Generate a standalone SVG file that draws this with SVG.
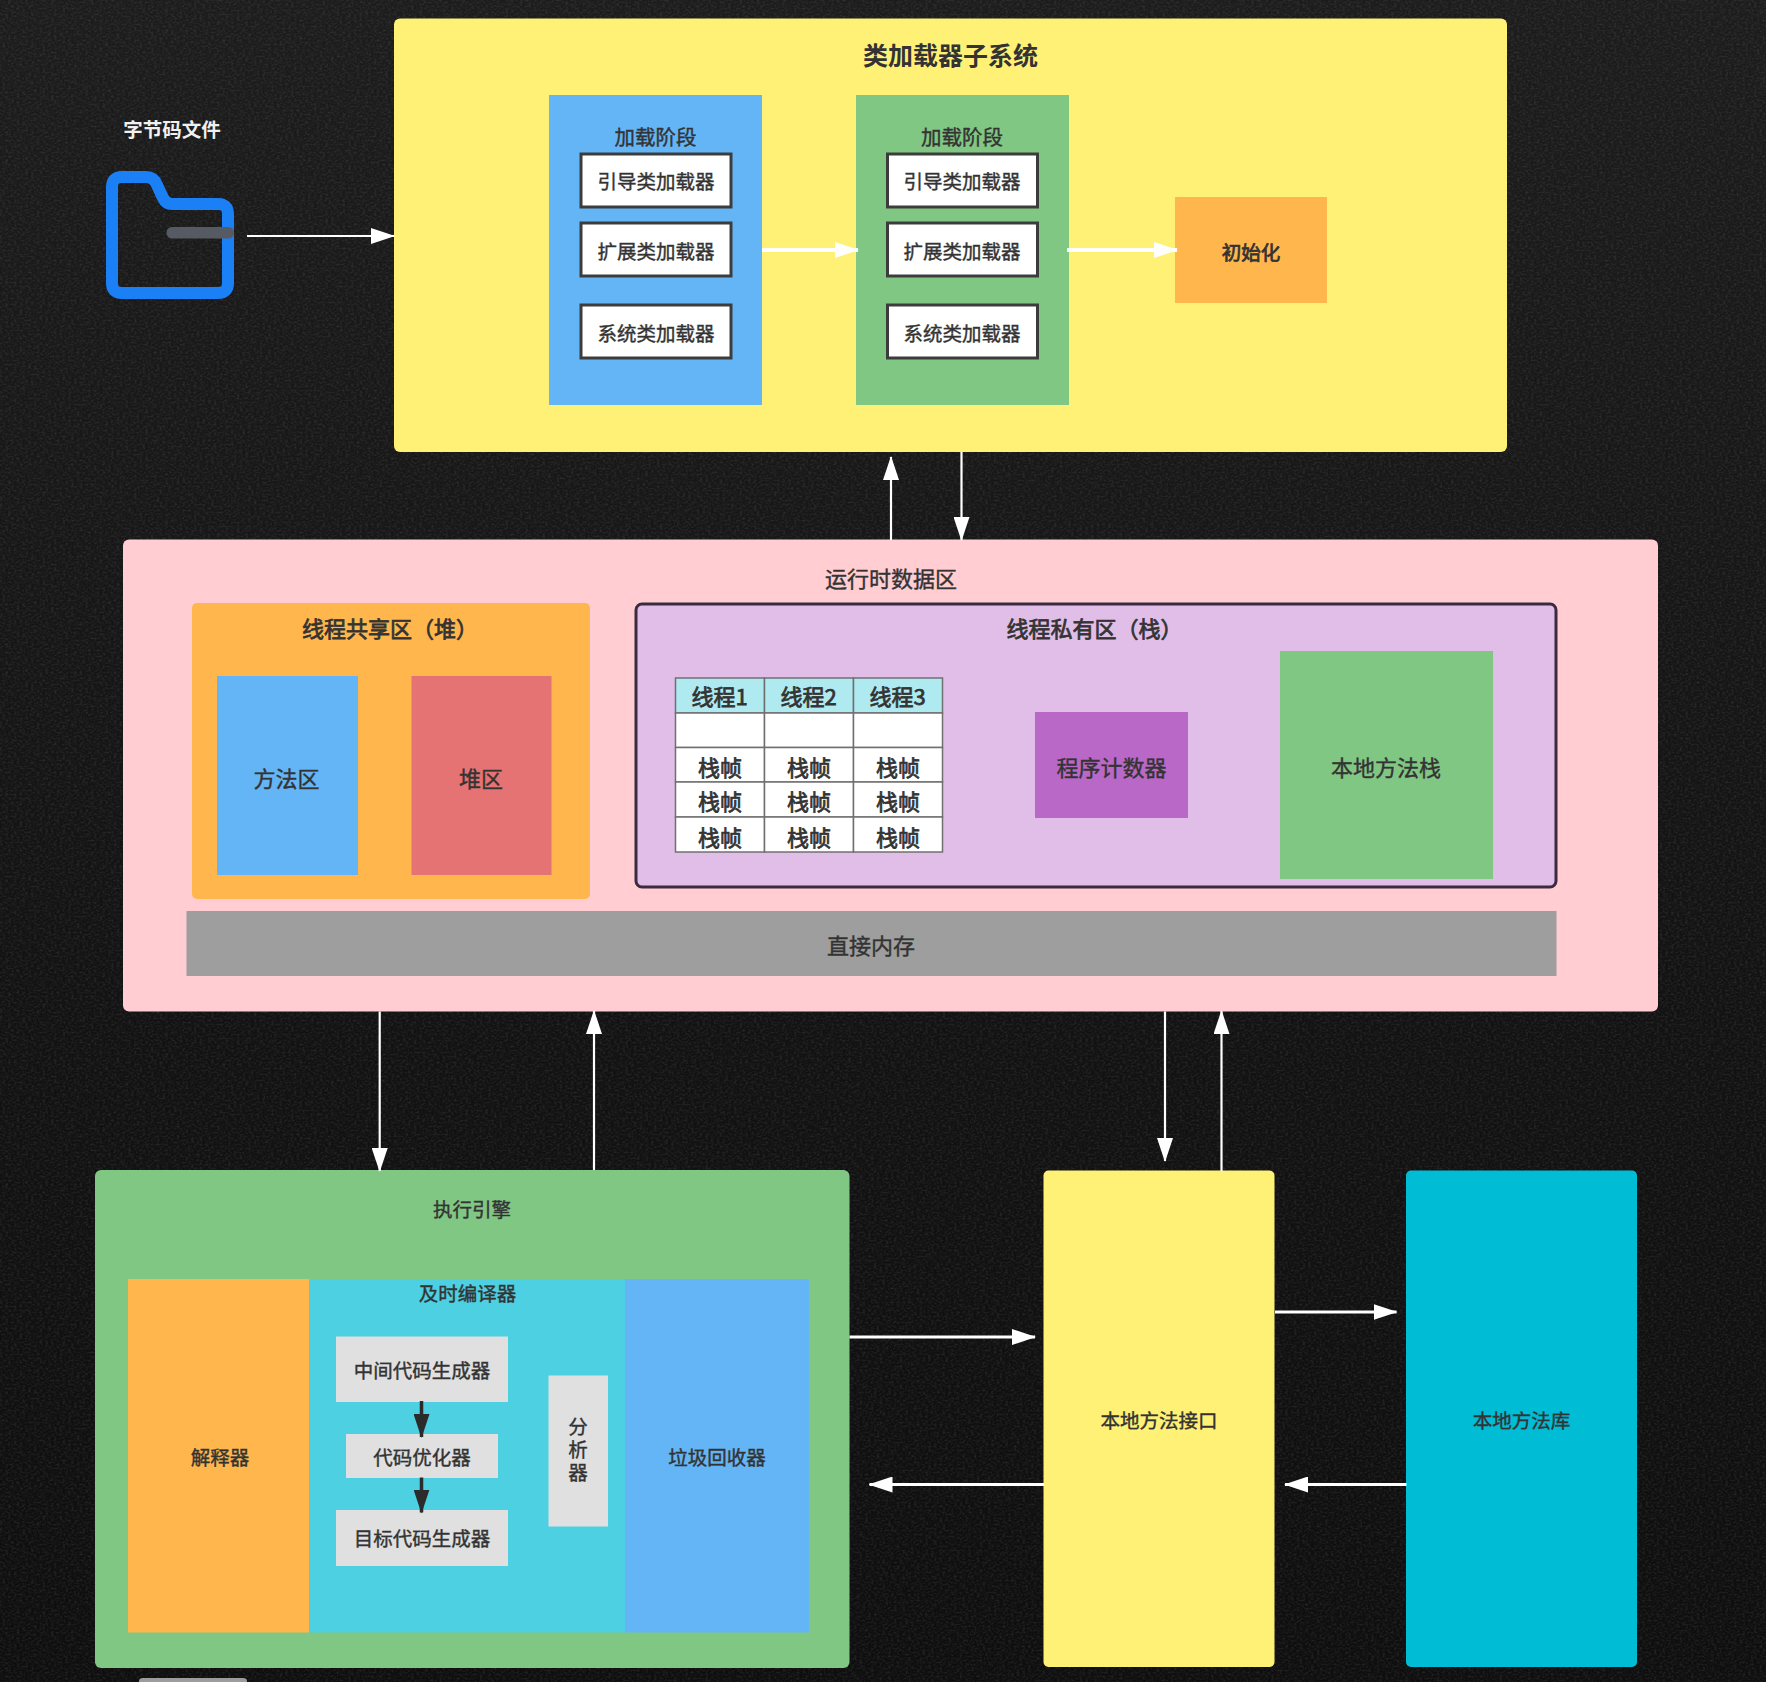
<svg xmlns="http://www.w3.org/2000/svg" width="1766" height="1682" viewBox="0 0 1766 1682">
<style>
text{font-family:"Noto Sans CJK SC","Noto Sans",sans-serif;fill:#333;stroke:#333;stroke-width:.4;text-anchor:middle;dominant-baseline:central;font-size:22px}
.s19{font-size:19.5px}
.s23{font-size:19.5px}
.b{font-weight:700;stroke-width:0}
.sb{stroke-width:.75}
.st{text-anchor:start}
.w{fill:#fff;stroke:#3c3c3c;stroke-width:3}
.c{fill:#fff;stroke:#707070;stroke-width:1.5}
.h{fill:#aeeaf0;stroke:#707070;stroke-width:1.5}
.g{fill:#e0e0e0}
.a{fill:none;stroke:#fff;stroke-width:2.2}
.t{fill:none;stroke:#fff;stroke-width:4}
.d{fill:none;stroke:#2b2b2b;stroke-width:3.5}
</style>
<defs>
<linearGradient id="bg" x1="0" y1="0" x2="0" y2="1"><stop offset="0" stop-color="#1c1c1c"/><stop offset="0.6" stop-color="#121212"/><stop offset="1" stop-color="#0e0e0e"/></linearGradient>
<filter id="n" x="0" y="0" width="100%" height="100%"><feTurbulence type="fractalNoise" baseFrequency="0.35 0.5" numOctaves="3" seed="4"/><feColorMatrix values="0 0 0 0 1 0 0 0 0 1 0 0 0 0 1 0.9 0 0 0 -0.36"/></filter>
<marker id="wh" markerUnits="userSpaceOnUse" viewBox="0 0 24 16" markerWidth="24" markerHeight="16" refX="23" refY="8" orient="auto"><path d="M0 0L24 8L0 16Z" fill="#fff"/></marker>
<marker id="dh" markerUnits="userSpaceOnUse" viewBox="0 0 24 16" markerWidth="24" markerHeight="16" refX="23" refY="8" orient="auto"><path d="M0 0L24 8L0 16Z" fill="#2b2b2b"/></marker>
</defs>
<rect width="1766" height="1682" fill="url(#bg)"/>
<rect width="1766" height="1682" filter="url(#n)" opacity="0.22"/>
<path d="M139 1682V1681Q139 1678 143 1678H243Q247 1678 247 1681V1682Z" fill="#9c9c9c"/>

<g id="folder"><text x="172" y="128" class="s19 b" style="fill:#f0f0f0">字节码文件</text>
<path d="M122 177H146Q154 177 157 185L163 198Q166 204 172 204H218Q228 204 228 214V283Q228 293 218 293H122Q112 293 112 283V187Q112 177 122 177Z" fill="none" stroke="#1b7ff5" stroke-width="12"/>
<rect x="166.5" y="227" width="67.5" height="11.5" rx="5.5" fill="#565b63"/></g>

<g id="classloader"><rect x="394" y="18.5" width="1113" height="433.5" rx="6" fill="#fff176"/>
<text x="950.5" y="54" class="b" style="font-size:25px">类加载器子系统</text></g>
<g id="load1"><rect x="549" y="95" width="213" height="310" fill="#64b5f6"/>
<text x="655.5" y="136" style="font-size:20.5px">加载阶段</text>
<rect class="w" x="581" y="154" width="150" height="53"/><text x="656" y="180" class="s23">引导类加载器</text>
<rect class="w" x="581" y="223" width="150" height="53"/><text x="656" y="250" class="s23">扩展类加载器</text>
<rect class="w" x="581" y="305" width="150" height="53"/><text x="656" y="332" class="s23">系统类加载器</text></g>
<g id="load2"><rect x="856" y="95" width="213" height="310" fill="#81c784"/>
<text x="962" y="136" style="font-size:20.5px">加载阶段</text>
<rect class="w" x="887.5" y="154" width="150" height="53"/><text x="962" y="180" class="s23">引导类加载器</text>
<rect class="w" x="887.5" y="223" width="150" height="53"/><text x="962" y="250" class="s23">扩展类加载器</text>
<rect class="w" x="887.5" y="305" width="150" height="53"/><text x="962" y="332" class="s23">系统类加载器</text></g>
<g id="init"><rect x="1175" y="197" width="152" height="106" fill="#ffb74d"/><text x="1251" y="251" class="s19 sb">初始化</text></g>

<g id="runtime"><rect x="123" y="539.5" width="1535" height="472" rx="6" fill="#ffcdd2"/><text x="891" y="576.5">运行时数据区</text></g>
<g id="shared"><rect x="192" y="603" width="398" height="296" rx="5" fill="#ffb74d"/><text x="302" y="627" class="st sb">线程共享区（堆）</text></g>
<g id="method"><rect x="217" y="676" width="141" height="199" fill="#64b5f6"/><text x="286.5" y="776.5">方法区</text></g>
<g id="heap"><rect x="411.5" y="676" width="140" height="199" fill="#e57373"/><text x="481" y="776.5">堆区</text></g>
<g id="private"><rect x="636" y="604" width="920" height="283" rx="6" fill="#e1bee7" stroke="#3a2b40" stroke-width="3"/><text x="1006.5" y="627" class="st sb">线程私有区（栈）</text></g>
<g id="threads">
<rect class="h" x="675.5" y="678" width="89" height="35"/><rect class="h" x="764.5" y="678" width="89" height="35"/><rect class="h" x="853.5" y="678" width="89" height="35"/>
<text x="719.5" y="695" class="sb">线程1</text><text x="808.5" y="695" class="sb">线程2</text><text x="897.5" y="695" class="sb">线程3</text>
<rect class="c" x="675.5" y="713" width="89" height="34.5"/><rect class="c" x="764.5" y="713" width="89" height="34.5"/><rect class="c" x="853.5" y="713" width="89" height="34.5"/>
<rect class="c" x="675.5" y="747.5" width="89" height="34.5"/><rect class="c" x="764.5" y="747.5" width="89" height="34.5"/><rect class="c" x="853.5" y="747.5" width="89" height="34.5"/>
<rect class="c" x="675.5" y="782" width="89" height="35"/><rect class="c" x="764.5" y="782" width="89" height="35"/><rect class="c" x="853.5" y="782" width="89" height="35"/>
<rect class="c" x="675.5" y="817" width="89" height="35"/><rect class="c" x="764.5" y="817" width="89" height="35"/><rect class="c" x="853.5" y="817" width="89" height="35"/>
<g class="f"><text x="720" y="765.5" class="sb">栈帧</text><text x="809" y="765.5" class="sb">栈帧</text><text x="898" y="765.5" class="sb">栈帧</text>
<text x="720" y="799.5" class="sb">栈帧</text><text x="809" y="799.5" class="sb">栈帧</text><text x="898" y="799.5" class="sb">栈帧</text>
<text x="720" y="835.5" class="sb">栈帧</text><text x="809" y="835.5" class="sb">栈帧</text><text x="898" y="835.5" class="sb">栈帧</text></g></g>
<g id="pc"><rect x="1035" y="712" width="153" height="106" fill="#ba68c8"/><text x="1111.5" y="765.5">程序计数器</text></g>
<g id="nstack"><rect x="1280" y="651" width="213" height="228" fill="#81c784"/><text x="1386" y="765.5">本地方法栈</text></g>
<g id="direct"><rect x="186.5" y="911" width="1370" height="65" fill="#9e9e9e"/><text x="871" y="943.5">直接内存</text></g>

<g id="engine"><rect x="95" y="1170" width="754.5" height="498" rx="6" fill="#81c784"/><text x="472" y="1208" class="s19">执行引擎</text></g>
<g id="interp"><rect x="128" y="1279" width="181" height="353.5" fill="#ffb74d"/><text x="220" y="1456" class="s19">解释器</text></g>
<g id="jit"><rect x="309" y="1279" width="316" height="353.5" fill="#4dd0e1"/><text x="467.5" y="1292" class="s19">及时编译器</text></g>
<g id="gc"><rect x="625" y="1279" width="184" height="353.5" fill="#64b5f6"/><text x="717" y="1456" class="s19">垃圾回收器</text></g>
<g id="ir"><rect class="g" x="336" y="1336.5" width="172" height="65.5"/><text x="422" y="1369.5" class="s19">中间代码生成器</text></g>
<g id="opt"><rect class="g" x="346" y="1434" width="152" height="44"/><text x="422" y="1456" class="s19">代码优化器</text></g>
<g id="target"><rect class="g" x="336" y="1510" width="172" height="56"/><text x="422" y="1537.5" class="s19">目标代码生成器</text></g>
<g id="analyzer"><rect class="g" x="548.5" y="1375.5" width="59.5" height="151"/><text x="578" y="1451" class="s19" style="writing-mode:vertical-rl;letter-spacing:3.5px">分析器</text></g>
<g id="jni"><rect x="1043.5" y="1170.5" width="231" height="496.5" rx="5" fill="#fff176"/><text x="1159" y="1419.5" class="s19">本地方法接口</text></g>
<g id="nlib"><rect x="1406" y="1170.5" width="231" height="496.5" rx="5" fill="#00bcd4"/><text x="1521.5" y="1419.5" class="s19">本地方法库</text></g>

<g id="connectors">
<path class="a" d="M247 236H394" marker-end="url(#wh)"/>
<path class="t" d="M762 250H858" marker-end="url(#wh)"/>
<path class="t" d="M1067 250H1177" marker-end="url(#wh)"/>
<path class="a" d="M891 540V457" marker-end="url(#wh)"/>
<path class="a" d="M961.5 452V540" marker-end="url(#wh)"/>
<path class="a" d="M379.7 1011.5V1171" marker-end="url(#wh)"/>
<path class="a" d="M594 1170V1011" marker-end="url(#wh)"/>
<path class="a" d="M1165 1011.5V1161" marker-end="url(#wh)"/>
<path class="a" d="M1221.5 1171V1011" marker-end="url(#wh)"/>
<path class="a" style="stroke-width:3" d="M849.5 1337H1035" marker-end="url(#wh)"/>
<path class="a" style="stroke-width:3" d="M1044 1484.5H869.5" marker-end="url(#wh)"/>
<path class="a" style="stroke-width:3" d="M1275 1312H1396.5" marker-end="url(#wh)"/>
<path class="a" style="stroke-width:3" d="M1406.5 1484.5H1285" marker-end="url(#wh)"/>
<path class="d" d="M421.5 1401V1437" marker-end="url(#dh)"/>
<path class="d" d="M421.5 1477.5V1512.5" marker-end="url(#dh)"/>
</g>
</svg>
